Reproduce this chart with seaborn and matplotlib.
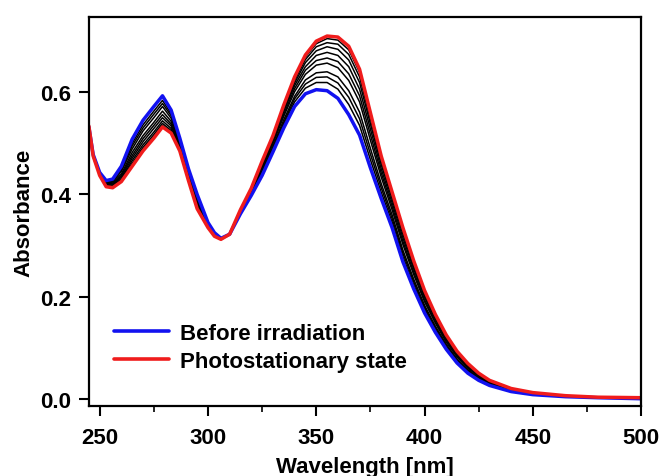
import numpy as np
import pandas as pd
import matplotlib
matplotlib.use("Agg")
import matplotlib.pyplot as plt
import seaborn as sns

# wavelength grid [nm]
wavelength = [245, 247, 250, 253, 256, 260, 265, 270, 275, 279, 283, 287, 291, 295, 300,
              303, 306, 310, 315, 320, 325, 330, 335, 340, 345, 350, 355, 360, 365, 370,
              375, 380, 385, 390, 395, 400, 405, 410, 415, 420, 425, 430, 440, 450, 465,
              480, 500]

# before irradiation (blue)
before = [0.532, 0.478, 0.443, 0.427, 0.430, 0.455, 0.508, 0.545, 0.572, 0.593, 0.565, 0.510,
          0.450, 0.400, 0.345, 0.325, 0.314, 0.322, 0.362, 0.398, 0.437, 0.483, 0.530, 0.572,
          0.597, 0.605, 0.603, 0.588, 0.556, 0.516, 0.452, 0.392, 0.335, 0.268, 0.215, 0.168,
          0.130, 0.097, 0.070, 0.050, 0.036, 0.026, 0.014, 0.008, 0.004, 0.002, 0.000]

# photostationary state (red)
pss = [0.534, 0.475, 0.437, 0.415, 0.413, 0.425, 0.455, 0.485, 0.510, 0.532, 0.520, 0.485,
       0.427, 0.372, 0.335, 0.318, 0.312, 0.322, 0.370, 0.412, 0.465, 0.515, 0.575, 0.630,
       0.673, 0.700, 0.710, 0.708, 0.690, 0.645, 0.560, 0.475, 0.405, 0.335, 0.270, 0.212,
       0.165, 0.125, 0.093, 0.069, 0.050, 0.036, 0.020, 0.012, 0.006, 0.003, 0.002]

# intermediate spectra during irradiation (black)
scan_1 = [0.532, 0.478, 0.442, 0.425, 0.427, 0.451, 0.500, 0.536, 0.563, 0.584, 0.558, 0.506,
          0.447, 0.396, 0.344, 0.324, 0.314, 0.322, 0.363, 0.400, 0.441, 0.488, 0.537, 0.581,
          0.608, 0.619, 0.619, 0.606, 0.576, 0.535, 0.468, 0.404, 0.346, 0.278, 0.223, 0.175,
          0.135, 0.101, 0.073, 0.053, 0.038, 0.028, 0.015, 0.009, 0.004, 0.002, 0.000]
scan_2 = [0.533, 0.477, 0.442, 0.424, 0.426, 0.448, 0.495, 0.530, 0.557, 0.578, 0.554, 0.504,
          0.444, 0.393, 0.343, 0.323, 0.314, 0.322, 0.364, 0.402, 0.444, 0.491, 0.541, 0.587,
          0.616, 0.629, 0.630, 0.618, 0.590, 0.548, 0.479, 0.413, 0.353, 0.285, 0.229, 0.179,
          0.139, 0.104, 0.076, 0.055, 0.040, 0.029, 0.016, 0.009, 0.005, 0.002, 0.001]
scan_3 = [0.533, 0.477, 0.441, 0.423, 0.424, 0.445, 0.489, 0.524, 0.550, 0.572, 0.549, 0.501,
          0.442, 0.390, 0.342, 0.323, 0.313, 0.322, 0.365, 0.403, 0.447, 0.494, 0.546, 0.592,
          0.624, 0.638, 0.640, 0.630, 0.603, 0.561, 0.490, 0.421, 0.360, 0.291, 0.234, 0.183,
          0.142, 0.107, 0.078, 0.057, 0.041, 0.030, 0.016, 0.009, 0.005, 0.002, 0.001]
scan_4 = [0.533, 0.477, 0.440, 0.421, 0.422, 0.440, 0.482, 0.515, 0.541, 0.563, 0.543, 0.498,
          0.439, 0.386, 0.340, 0.322, 0.313, 0.322, 0.366, 0.405, 0.451, 0.499, 0.553, 0.601,
          0.635, 0.653, 0.657, 0.648, 0.623, 0.581, 0.506, 0.434, 0.370, 0.302, 0.243, 0.190,
          0.148, 0.111, 0.082, 0.060, 0.043, 0.031, 0.017, 0.010, 0.005, 0.003, 0.001]
scan_5 = [0.533, 0.476, 0.439, 0.420, 0.420, 0.437, 0.476, 0.509, 0.535, 0.556, 0.538, 0.495,
          0.436, 0.383, 0.339, 0.321, 0.313, 0.322, 0.367, 0.406, 0.454, 0.502, 0.557, 0.607,
          0.643, 0.662, 0.667, 0.660, 0.636, 0.593, 0.517, 0.442, 0.377, 0.308, 0.248, 0.194,
          0.151, 0.114, 0.084, 0.061, 0.044, 0.032, 0.018, 0.010, 0.005, 0.003, 0.001]
scan_6 = [0.533, 0.476, 0.439, 0.419, 0.418, 0.434, 0.471, 0.503, 0.529, 0.550, 0.534, 0.493,
          0.434, 0.380, 0.338, 0.320, 0.313, 0.322, 0.368, 0.408, 0.457, 0.505, 0.562, 0.613,
          0.650, 0.672, 0.678, 0.672, 0.650, 0.606, 0.528, 0.450, 0.384, 0.315, 0.254, 0.199,
          0.155, 0.117, 0.086, 0.063, 0.046, 0.033, 0.018, 0.011, 0.005, 0.003, 0.001]
scan_7 = [0.534, 0.476, 0.438, 0.417, 0.416, 0.431, 0.466, 0.497, 0.522, 0.544, 0.529, 0.490,
          0.432, 0.378, 0.337, 0.319, 0.312, 0.322, 0.368, 0.409, 0.459, 0.509, 0.566, 0.618,
          0.658, 0.681, 0.689, 0.684, 0.663, 0.619, 0.538, 0.458, 0.391, 0.322, 0.259, 0.203,
          0.158, 0.119, 0.088, 0.065, 0.047, 0.034, 0.019, 0.011, 0.006, 0.003, 0.002]
scan_8 = [0.534, 0.475, 0.438, 0.416, 0.415, 0.429, 0.461, 0.492, 0.517, 0.539, 0.525, 0.488,
          0.430, 0.375, 0.336, 0.319, 0.312, 0.322, 0.369, 0.410, 0.462, 0.511, 0.570, 0.623,
          0.664, 0.689, 0.697, 0.694, 0.674, 0.630, 0.547, 0.465, 0.397, 0.327, 0.263, 0.207,
          0.161, 0.122, 0.090, 0.067, 0.048, 0.035, 0.019, 0.012, 0.006, 0.003, 0.002]
scan_9 = [0.534, 0.475, 0.437, 0.416, 0.414, 0.427, 0.458, 0.488, 0.513, 0.535, 0.522, 0.486,
          0.428, 0.373, 0.336, 0.318, 0.312, 0.322, 0.370, 0.411, 0.464, 0.513, 0.573, 0.627,
          0.669, 0.695, 0.705, 0.702, 0.683, 0.639, 0.555, 0.471, 0.402, 0.332, 0.267, 0.210,
          0.163, 0.124, 0.092, 0.068, 0.049, 0.036, 0.020, 0.012, 0.006, 0.003, 0.002]

scans = [scan_1, scan_2, scan_3, scan_4, scan_5, scan_6, scan_7, scan_8, scan_9]

sns.set_style("ticks")
plt.rcParams['font.family'] = ['Liberation Sans', 'DejaVu Sans']
plt.rcParams['font.weight'] = 'bold'
plt.rcParams['text.color'] = 'black'
plt.rcParams['axes.labelcolor'] = 'black'
plt.rcParams['xtick.color'] = 'black'
plt.rcParams['ytick.color'] = 'black'

FS = 16

fig = plt.figure(figsize=(6.63, 4.77), dpi=100)
ax = fig.add_axes([0.134, 0.147, 0.833, 0.815])

for s in scans:
    sns.lineplot(x=wavelength, y=s, ax=ax, color='black', lw=1.1, estimator=None, sort=False)
sns.lineplot(x=wavelength, y=before, ax=ax, color='#1212f0', lw=2.5, estimator=None,
             sort=False, label='Before irradiation')
sns.lineplot(x=wavelength, y=pss, ax=ax, color='#f01c1c', lw=2.5, estimator=None,
             sort=False, label='Photostationary state')

ax.set_xlim(245, 500)
ax.set_ylim(-0.014, 0.747)
ax.set_xticks([250, 300, 350, 400, 450, 500])
ax.set_xticks([275, 325, 375, 425, 475], minor=True)
ax.set_yticks([0.0, 0.2, 0.4, 0.6])
ax.set_yticklabels(['0.0', '0.2', '0.4', '0.6'])

for sp in ax.spines.values():
    sp.set_linewidth(1.6)
    sp.set_color('black')
ax.tick_params(axis='both', which='major', length=7, width=1.5, labelsize=FS, pad=6)
ax.tick_params(axis='x', which='major', pad=8)
ax.tick_params(axis='x', which='minor', length=4, width=1.2)

ax.set_xlabel('Wavelength [nm]', fontsize=FS, fontweight='bold', labelpad=6)
ax.set_ylabel('Absorbance', fontsize=FS, fontweight='bold', labelpad=4)

leg = ax.legend(loc='lower left', bbox_to_anchor=(0.026, 0.059), frameon=False,
                handlelength=2.45, handletextpad=0.5, borderpad=0,
                labelspacing=0.3, prop={'weight': 'bold', 'size': FS})
for line in leg.get_lines():
    line.set_linewidth(2.6)

fig.savefig('out.png', dpi=100)
